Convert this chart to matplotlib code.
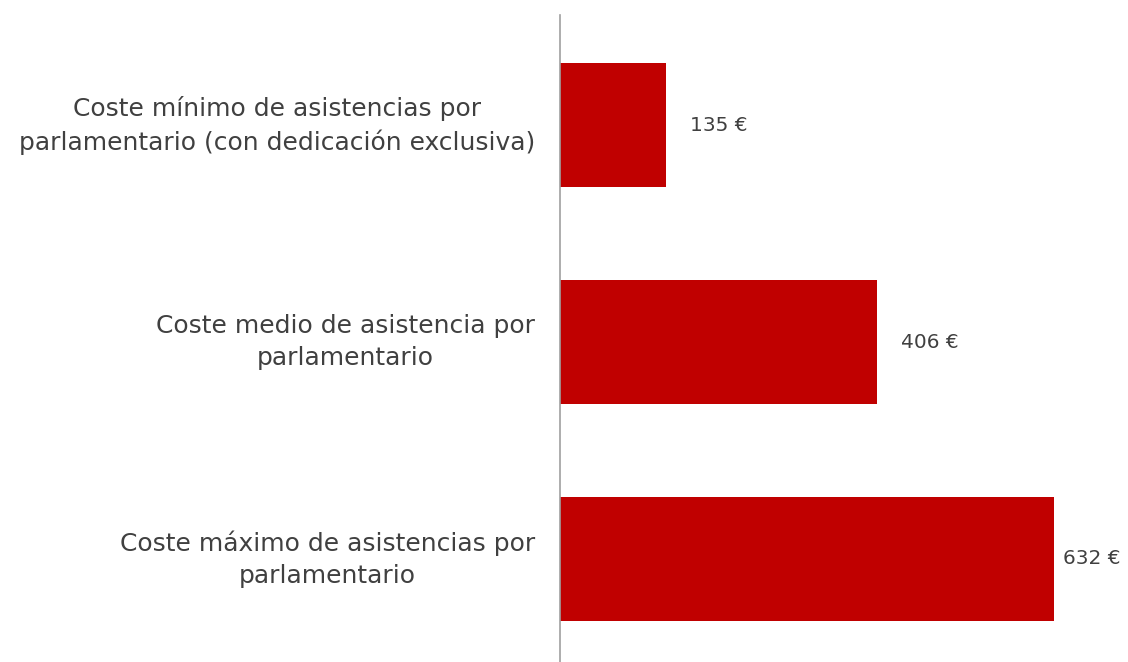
import matplotlib.pyplot as plt

categorias = ['Coste mínimo de asistencias por\nparlamentario (con dedicación exclusiva)',
              'Coste medio de asistencia por\nparlamentario',
              'Coste máximo de asistencias por\nparlamentario']
valores = [135, 406, 632]
etiquetas = ['135 €', '406 €', '632 €']

plt.rcParams['font.family'] = ['DejaVu Sans']

fig = plt.figure(figsize=(11.28, 6.62), dpi=100)
ax = fig.add_axes([0.4965, 0.0, 0.5035, 0.977])

pos = list(range(len(valores)))
ax.barh(pos, valores, height=0.57, color='#c00000')
ax.set_ylim(2.475, -0.507)
ax.set_xlim(0, 727)

# etiquetas de categoria a la izquierda
for p, c in zip(pos, categorias):
    ax.annotate(c, xy=(0, p), xytext=(-25, 0), textcoords='offset pixels',
                ha='right', va='center', multialignment='center',
                fontsize=18, color='#404040', linespacing=1.4)

# valores
for p, v, e in zip(pos, valores, etiquetas):
    if v > 600:
        dx = 9
    else:
        dx = 24
    ax.annotate(e, xy=(v, p), xytext=(dx, 0), textcoords='offset pixels',
                ha='left', va='center', fontsize=14.5, color='#404040')

for s in ['top', 'right', 'bottom']:
    ax.spines[s].set_visible(False)
ax.spines['left'].set_color('#a0a0a0')
ax.spines['left'].set_linewidth(1.2)
ax.set_xticks([])
ax.set_yticks([])

fig.savefig('out.png', dpi=100)
